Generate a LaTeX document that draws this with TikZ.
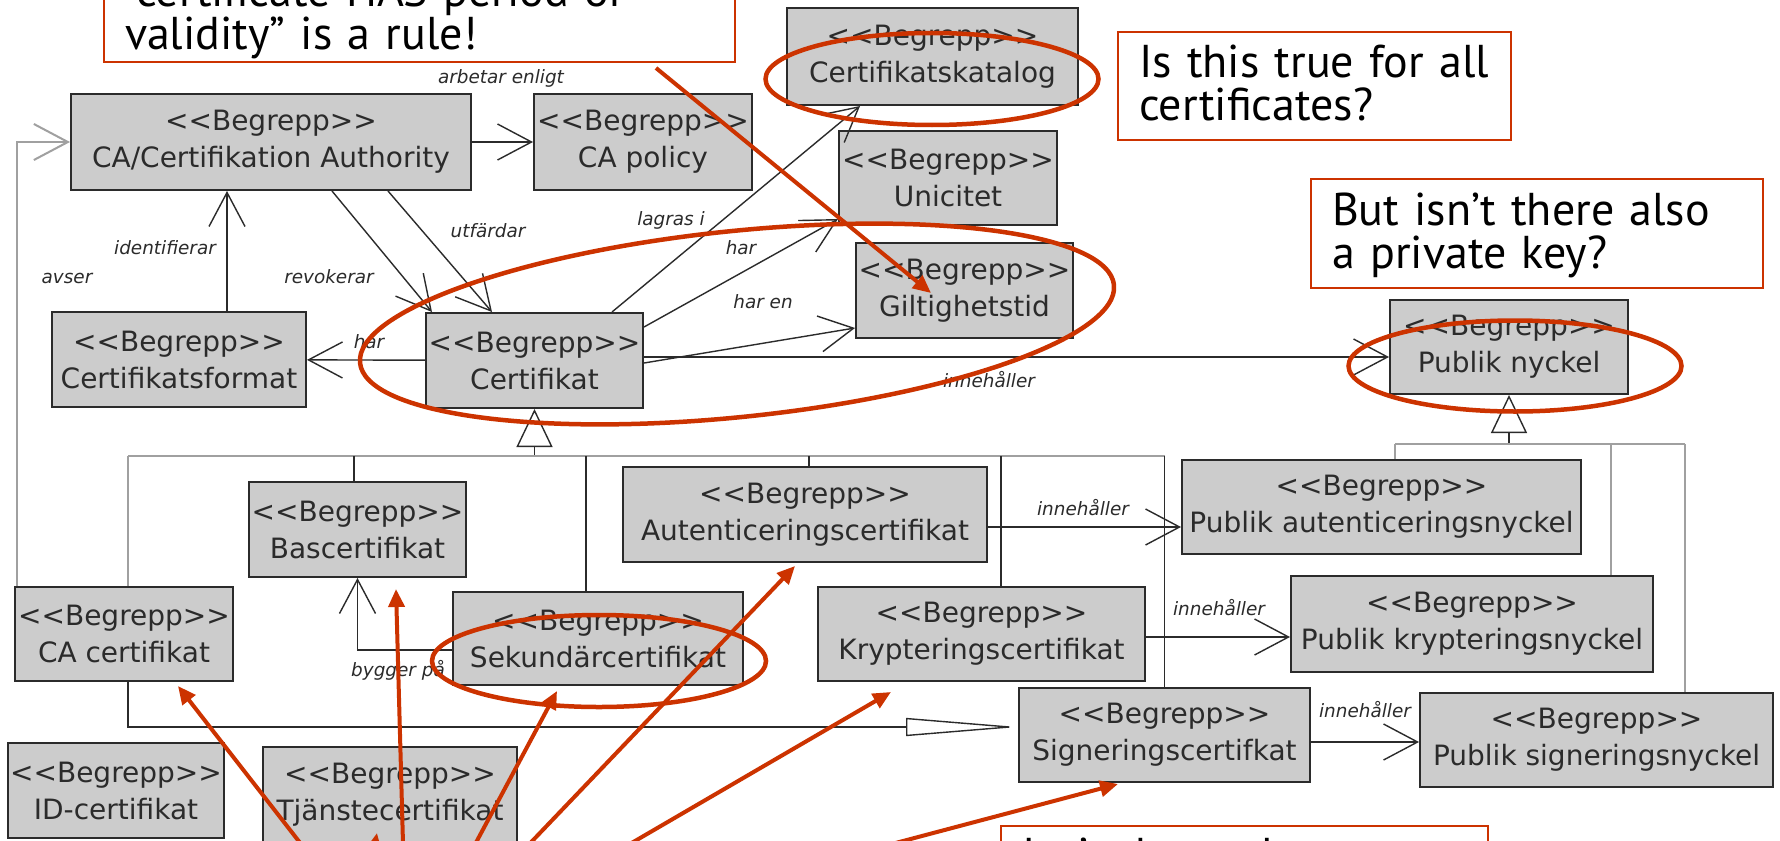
\documentclass[tikz,border=0pt]{standalone}
\usepackage{fontspec}
\usetikzlibrary{arrows.meta,shapes.geometric}

\newfontfamily\boxfont{DejaVu Sans}
\newfontfamily\notefont{PT Sans}
\definecolor{boxgray}{HTML}{CCCCCC}
\definecolor{inkdark}{HTML}{2B2B2B}
\definecolor{linegray}{HTML}{A0A0A0}
\definecolor{markred}{HTML}{CC3300}
\newcommand\begrepp{<\kern0pt<Begrepp>\kern0pt>}
\newcommand\lift[1]{\rule{0pt}{#1}}

\tikzset{
  begreppbox/.style={draw=inkdark, line width=1pt, fill=boxgray, text=inkdark, align=center,
    inner sep=0pt, font=\boxfont\fontsize{14}{18.5}\selectfont},
  rolelabel/.style={text=inkdark, inner sep=0pt, font=\boxfont\itshape\fontsize{9.2}{11}\selectfont},
  assoc/.style={draw=inkdark, line width=0.7pt, -{Straight Barb[length=17pt,width=18pt]}},
  gen/.style={draw=inkdark, line width=0.7pt, -{Triangle[open,length=19pt,width=18pt]}},
  treeline/.style={draw=linegray, line width=1pt},
  branch/.style={draw=inkdark, line width=0.7pt},
  remark/.style={draw=markred, line width=1pt, fill=white, align=left, inner xsep=10.5pt,
    inner ysep=0pt, font=\notefont\fontsize{23}{21.5}\selectfont},
  ring/.style={ellipse, draw=markred, line width=2.25pt, inner sep=0pt},
  pointer/.style={draw=markred, line width=2pt, -{Triangle[length=9pt,width=8pt]}}
}

\begin{document}
\begin{tikzpicture}[x=0.5pt, y=-0.5pt]
  \path[use as bounding box, fill=white] (0,0) rectangle (1780,840);

  % Draw concept boxes
  \node[begreppbox, minimum width=200pt, minimum height=48pt] (ca) at (271,142) {\begrepp\\CA/Certifikation Authority};
  \node[begreppbox, minimum width=109pt, minimum height=48pt] (policy) at (643,142) {\begrepp\\CA policy};
  \node[begreppbox, minimum width=145.5pt, minimum height=48.5pt] (katalog) at (932.5,56.5) {\begrepp\\Certifikatskatalog};
  \node[begreppbox, minimum width=109pt, minimum height=47pt] (unicitet) at (948,178) {\begrepp\\Unicitet};
  \node[begreppbox, minimum width=108.5pt, minimum height=47.5pt] (giltig) at (964.5,290.5) {\begrepp\\Giltighetstid};
  \node[begreppbox, minimum width=127pt, minimum height=47.5pt] (format) at (179,359.5) {\begrepp\\Certifikatsformat};
  \node[begreppbox, minimum width=108.5pt, minimum height=47.5pt] (cert) at (534.5,360.5) {\begrepp\\Certifikat};
  \node[begreppbox, minimum width=119pt, minimum height=47pt] (publik) at (1509,347) {\begrepp\\Publik nyckel};
  \node[begreppbox, minimum width=108.5pt, minimum height=47.5pt] (bas) at (357.5,529.5) {\begrepp\\Bascertifikat};
  \node[begreppbox, minimum width=182pt, minimum height=47.5pt] (autent) at (805,514.5) {\begrepp\\Autenticeringscertifikat};
  \node[begreppbox, minimum width=199.5pt, minimum height=47pt] (pautent) at (1381.5,507) {\begrepp\\Publik autenticeringsnyckel};
  \node[begreppbox, minimum width=109pt, minimum height=47pt] (cacert) at (124,634) {\begrepp\\CA certifikat};
  \node[begreppbox, minimum width=145pt, minimum height=46.5pt] (sekund) at (598,638.5) {\begrepp\\Sekundärcertifikat};
  \node[begreppbox, minimum width=163.5pt, minimum height=47pt] (krypt) at (981.5,634) {\begrepp\\Krypteringscertifikat};
  \node[begreppbox, minimum width=181pt, minimum height=48pt] (pkrypt) at (1472,624) {\begrepp\\Publik krypteringsnyckel};
  \node[begreppbox, minimum width=145.5pt, minimum height=47pt] (signer) at (1164.5,735) {\begrepp\\Signeringscertifkat};
  \node[begreppbox, minimum width=176.5pt, minimum height=47pt] (psigner) at (1596.5,740) {\begrepp\\Publik signeringsnyckel};
  \node[begreppbox, minimum width=108pt, minimum height=47.5pt] (idcert) at (116,790.5) {\begrepp\\ID-certifikat};
  \node[begreppbox, minimum width=127pt, minimum height=47.5pt] (tjanst) at (390,794.5) {\begrepp\\Tjänstecertifikat};

  % Draw associations
  \draw[assoc] (ca) -- (policy);
  \draw[assoc, draw=linegray, line width=1pt] ([xshift=1.5pt]cacert.north west) |- (ca.west);
  \draw[assoc] ([xshift=24pt]format.north) -- ([xshift=-22pt]ca.south);
  \draw[assoc] ([xshift=30.5pt]ca.south) -- ([xshift=-51.25pt]cert.north);
  \draw[assoc] ([xshift=58.5pt]ca.south) -- ([xshift=-21.25pt]cert.north);
  \draw[assoc] (cert) -- (format);
  \draw[assoc] ([xshift=38.75pt]cert.north) -- ([xshift=-36.25pt]katalog.south);
  \draw[assoc] ([yshift=16.75pt]cert.east) -- ([yshift=3.5pt]unicitet.south west);
  \draw[assoc] ([yshift=-1.25pt]cert.east) -- ([yshift=5.5pt]giltig.south west);
  \coordinate (certout) at ([yshift=1.75pt]cert.east);
  \draw[assoc] (certout) -- (certout -| publik.west);
  \draw[assoc] ([yshift=-6.25pt]autent.east) -- ([yshift=-10pt]pautent.west);
  \draw[assoc] ([yshift=-1.5pt]krypt.east) -- ([yshift=-6.5pt]pkrypt.west);
  \draw[assoc] ([yshift=-3.5pt]signer.east) -- ([yshift=-1pt]psigner.west);
  \draw[assoc] ([yshift=-5.75pt]sekund.west) -| (bas.south);

  % Role names
  \node[rolelabel] (lblarbetar) at (501,78) {arbetar enligt};
  \node[rolelabel] (lblident) at (165,248) {identifierar};
  \node[rolelabel] (lblavser) at (67,278) {avser};
  \node[rolelabel] (lblrevok) at (329,277) {revokerar};
  \node[rolelabel] (lblutf) at (488,231) {utfärdar};
  \node[rolelabel] (lbllagras) at (671,220) {lagras i};
  \node[rolelabel] (lblharuni) at (741,248) {har};
  \node[rolelabel] (lblharen) at (763,302) {har en};
  \node[rolelabel] (lblharfmt) at (369,342) {har};
  \node[rolelabel] (lblinnpub) at (989,380) {innehåller};
  \node[rolelabel] (lblinnaut) at (1083,508) {innehåller};
  \node[rolelabel] (lblinnkry) at (1219,608) {innehåller};
  \node[rolelabel] (lblinnsig) at (1365,710) {innehåller};
  \node[rolelabel] (lblbygger) at (398,670) {bygger på};

  % Generalisations
  \coordinate (certbus) at ([yshift=-23.5pt]cert.south);
  \draw[gen] (certbus) -- (cert.south);
  \foreach \sub/\dx in {cacert/2pt, bas/-1.75pt, sekund/-6pt, autent/2pt, krypt/9.75pt, signer/0pt}
    \path ([xshift=\dx]\sub.north) coordinate (up-\sub);
  \draw[treeline] (up-cacert |- certbus) -- (up-signer |- certbus);
  \draw[treeline] (up-cacert) -- (up-cacert |- certbus);
  \foreach \sub in {bas, sekund, autent, krypt, signer}
    \draw[branch] (up-\sub) -- (up-\sub |- certbus);

  \coordinate (pubbus) at ([yshift=-24.5pt]publik.south);
  \draw[gen] (pubbus) -- (publik.south);
  \foreach \sub/\dx in {pautent/6.75pt, pkrypt/69.5pt, psigner/44.25pt} {
    \path ([xshift=\dx]\sub.north) coordinate (up-\sub);
    \draw[treeline] (up-\sub) -- (up-\sub |- pubbus);
  }
  \draw[treeline] (up-pautent |- pubbus) -- (up-psigner |- pubbus);

  \draw[gen, -{Triangle[open,length=56pt,width=9pt]}] ([xshift=2pt]cacert.south) |- ([yshift=4pt]signer.west);

  % Remarks
  \node[remark, anchor=south west, minimum width=315.5pt, minimum height=55.5pt, text width=294.5pt] (qvalid) at (103,63) {\lift{30.5pt}“certificate HAS period of\\\strut validity” is a rule!};
  \node[remark, anchor=north west, minimum width=196.5pt, minimum height=54pt, text width=175.5pt] (qtrue) at (1117,31) {\lift{19pt}Is this true for all\\\strut certificates?};
  \node[remark, anchor=north west, minimum width=226pt, minimum height=54.5pt, text width=205pt] (qprivate) at (1310,178) {\lift{20pt}But isn’t there also\\\strut a private key?};
  \node[remark, anchor=north west, minimum width=243.5pt, minimum height=54pt, text width=222.5pt] (qbottom) at (1000,825) {\lift{18pt}Isn’t there also a\\\strut general one?};

  % Highlight rings
  \node[ring, minimum width=166.5pt, minimum height=46pt] (ringkatalog) at (932,79) {};
  \node[ring, minimum width=379pt, minimum height=93pt, rotate=5.9] (ringcert) at (737,324) {};
  \node[ring, minimum width=166.5pt, minimum height=45.5pt] (ringpublik) at (1515,366) {};
  \node[ring, minimum width=167pt, minimum height=46pt] (ringsekund) at (599,661) {};

  % Pointers
  \coordinate (fromcacert) at (329,880);
  \coordinate (fromtjanst) at (368,880);
  \coordinate (frombas) at (404,880);
  \coordinate (fromsekund) at (456,880);
  \coordinate (fromautent) at (495,880);
  \coordinate (fromkrypt) at (568,880);
  \coordinate (fromsigner) at (756,880);
  \draw[pointer] ([xshift=118.25pt,yshift=-2.5pt]qvalid.south) -- ([xshift=-16.75pt,yshift=-1.25pt]giltig.center);
  \draw[pointer] (fromcacert) -- ([xshift=27pt,yshift=-2pt]cacert.south);
  \draw[pointer] (fromtjanst) -- ([xshift=-6.5pt,yshift=-19.25pt]tjanst.center);
  \draw[pointer] (frombas) -- ([xshift=19.25pt,yshift=-5.5pt]bas.south);
  \draw[pointer] (fromsekund) -- ([xshift=-20.5pt,yshift=-2.5pt]sekund.south);
  \draw[pointer] (fromautent) -- ([xshift=-5pt,yshift=-1.5pt]autent.south);
  \draw[pointer] (fromkrypt) -- ([xshift=-45.25pt,yshift=-5pt]krypt.south);
  \draw[pointer] (fromsigner) -- ([xshift=-23.25pt,yshift=-0.5pt]signer.south);
\end{tikzpicture}
\end{document}
